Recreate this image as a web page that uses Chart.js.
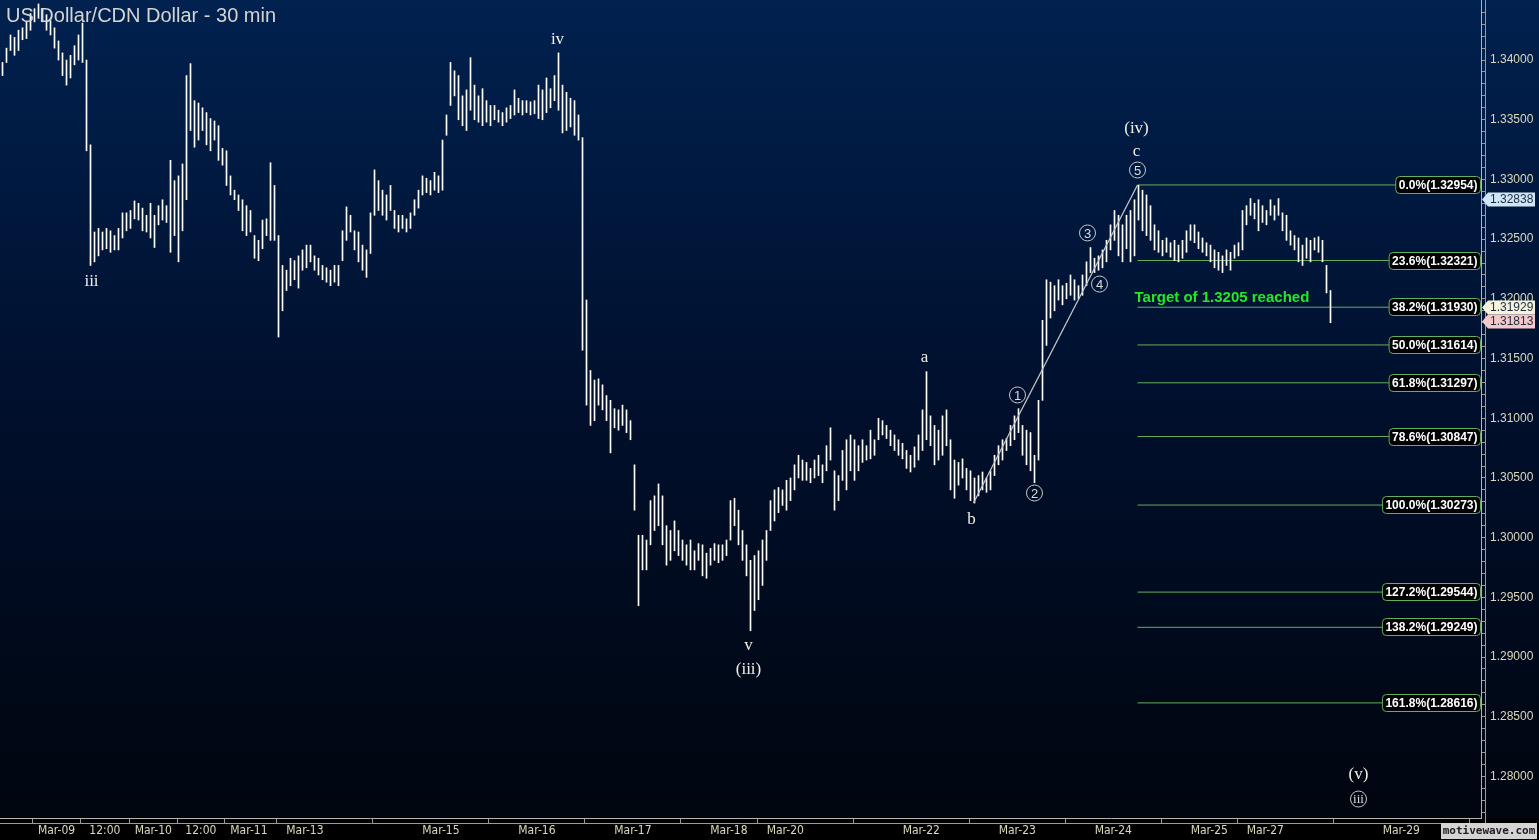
<!DOCTYPE html>
<html>
<head>
<meta charset="utf-8">
<script src="https://cdn.jsdelivr.net/npm/chart.js@4.4.0/dist/chart.umd.min.js"></script>
<style>
html, body { margin: 0; padding: 0; background: #000; }
#wrap { width: 1539px; height: 840px; }
</style>
</head>
<body>
<div id="wrap"><canvas id="chart" width="1539" height="840"></canvas></div>
<script>
// 30 min bars (low / high of each bar)
var barLow = [
  1.3387,1.3398,1.3408,1.3404,1.3408,1.3417,1.3418,1.3425,1.3432,1.3435,
  1.3432,1.3425,1.3421,1.3410,1.3400,1.3387,1.3379,1.3385,1.3396,1.3400,
  1.3398,1.3324,1.3228,1.3231,1.3236,1.3241,1.3242,1.3239,1.3241,1.3241,
  1.3251,1.3257,1.3259,1.3267,1.3266,1.3257,1.3256,1.3251,1.3243,1.3262,
  1.3266,1.3264,1.3239,1.3253,1.3231,1.3257,1.3283,1.3341,1.3327,1.3333,
  1.3341,1.3329,1.3324,1.3333,1.3316,1.3312,1.3295,1.3287,1.3283,1.3274,
  1.3257,1.3253,1.3256,1.3234,1.3232,1.3242,1.3253,1.3249,1.3249,1.3168,
  1.3190,1.3207,1.3211,1.3216,1.3209,1.3224,1.3226,1.3231,1.3224,1.3220,
  1.3216,1.3214,1.3211,1.3214,1.3211,1.3232,1.3249,1.3256,1.3241,1.3231,
  1.3224,1.3218,1.3238,1.3270,1.3274,1.3270,1.3266,1.3274,1.3259,1.3256,
  1.3259,1.3256,1.3259,1.3270,1.3276,1.3287,1.3289,1.3287,1.3291,1.3289,
  1.3291,1.3337,1.3362,1.3370,1.3350,1.3345,1.3341,1.3358,1.3350,1.3348,
  1.3345,1.3348,1.3345,1.3350,1.3348,1.3345,1.3348,1.3351,1.3354,1.3356,
  1.3354,1.3356,1.3354,1.3355,1.3351,1.3350,1.3356,1.3360,1.3366,1.3358,
  1.3339,1.3341,1.3344,1.3337,1.3333,1.3157,1.3111,1.3094,1.3098,1.3111,
  1.3107,1.3098,1.3071,1.3092,1.3090,1.3094,1.3088,1.3082,1.3023,1.2943,
  1.2973,1.2973,1.2994,1.3006,1.3010,1.2994,1.2977,1.2981,1.2989,1.2985,
  1.2981,1.2977,1.2973,1.2973,1.2981,1.2968,1.2966,1.2977,1.2981,1.2979,
  1.2981,1.2985,1.2998,1.3010,1.2994,1.2981,1.2968,1.2922,1.2939,1.2948,
  1.2960,1.2981,1.3006,1.3014,1.3021,1.3027,1.3023,1.3031,1.3040,1.3050,
  1.3048,1.3048,1.3046,1.3050,1.3052,1.3046,1.3056,1.3065,1.3023,1.3031,
  1.3048,1.3040,1.3056,1.3048,1.3056,1.3063,1.3065,1.3066,1.3069,1.3082,
  1.3086,1.3083,1.3077,1.3073,1.3069,1.3066,1.3058,1.3055,1.3059,1.3065,
  1.3073,1.3082,1.3077,1.3061,1.3065,1.3069,1.3077,1.3040,1.3033,1.3044,
  1.3050,1.3040,1.3031,1.3029,1.3035,1.3040,1.3038,1.3040,1.3052,1.3061,
  1.3065,1.3073,1.3077,1.3082,1.3088,1.3069,1.3061,1.3056,1.3046,1.3065,
  1.3115,1.3161,1.3184,1.3190,1.3199,1.3195,1.3200,1.3203,1.3199,1.3200,
  1.3203,1.3211,1.3222,1.3222,1.3224,1.3226,1.3231,1.3241,1.3249,1.3236,
  1.3231,1.3242,1.3231,1.3236,1.3266,1.3257,1.3253,1.3249,1.3241,1.3239,
  1.3236,1.3239,1.3235,1.3232,1.3231,1.3234,1.3239,1.3249,1.3247,1.3242,
  1.3239,1.3236,1.3231,1.3226,1.3224,1.3222,1.3228,1.3224,1.3234,1.3236,
  1.3241,1.3262,1.3270,1.3267,1.3257,1.3264,1.3262,1.3270,1.3266,1.3270,
  1.3257,1.3249,1.3245,1.3241,1.3231,1.3228,1.3234,1.3231,1.3241,1.3239,
  1.3231,1.3205,1.3180
];
var barHigh = [
  1.3398,1.3410,1.3421,1.3419,1.3425,1.3427,1.3432,1.3439,1.3443,1.3447,
  1.3443,1.3438,1.3433,1.3427,1.3416,1.3406,1.3400,1.3404,1.3412,1.3421,
  1.3431,1.3400,1.3329,1.3256,1.3259,1.3256,1.3259,1.3257,1.3253,1.3259,
  1.3272,1.3272,1.3274,1.3282,1.3280,1.3276,1.3270,1.3280,1.3270,1.3278,
  1.3283,1.3278,1.3316,1.3299,1.3303,1.3313,1.3387,1.3397,1.3366,1.3364,
  1.3360,1.3356,1.3351,1.3349,1.3345,1.3326,1.3324,1.3303,1.3291,1.3287,
  1.3283,1.3278,1.3274,1.3253,1.3249,1.3266,1.3267,1.3314,1.3295,1.3253,
  1.3228,1.3224,1.3234,1.3232,1.3236,1.3241,1.3245,1.3245,1.3236,1.3234,
  1.3228,1.3226,1.3224,1.3228,1.3228,1.3257,1.3277,1.3270,1.3257,1.3256,
  1.3245,1.3241,1.3272,1.3308,1.3299,1.3291,1.3287,1.3295,1.3274,1.3270,
  1.3270,1.3267,1.3272,1.3283,1.3291,1.3303,1.3301,1.3299,1.3306,1.3303,
  1.3333,1.3354,1.3398,1.3391,1.3387,1.3370,1.3375,1.3402,1.3379,1.3370,
  1.3376,1.3366,1.3362,1.3362,1.3358,1.3356,1.3360,1.3362,1.3375,1.3368,
  1.3366,1.3366,1.3365,1.3366,1.3379,1.3375,1.3385,1.3376,1.3387,1.3406,
  1.3379,1.3373,1.3368,1.3366,1.3354,1.3335,1.3199,1.3140,1.3132,1.3133,
  1.3128,1.3119,1.3115,1.3108,1.3107,1.3111,1.3107,1.3098,1.3061,1.3002,
  1.3002,1.2998,1.3031,1.3035,1.3045,1.3035,1.3010,1.3006,1.3014,1.3006,
  1.2998,1.2994,1.2998,1.2989,1.2995,1.2994,1.2987,1.2991,1.2995,1.2994,
  1.2994,1.2998,1.3031,1.3033,1.3023,1.3006,1.2994,1.2981,1.2985,1.2989,
  1.2998,1.3006,1.3031,1.3040,1.3042,1.3040,1.3048,1.3050,1.3061,1.3069,
  1.3065,1.3063,1.3058,1.3065,1.3069,1.3061,1.3077,1.3092,1.3056,1.3052,
  1.3073,1.3082,1.3086,1.3082,1.3077,1.3082,1.3077,1.3090,1.3082,1.3100,
  1.3098,1.3094,1.3090,1.3086,1.3082,1.3079,1.3073,1.3069,1.3076,1.3086,
  1.3107,1.3139,1.3102,1.3094,1.3090,1.3102,1.3107,1.3082,1.3065,1.3063,
  1.3066,1.3058,1.3056,1.3050,1.3052,1.3055,1.3050,1.3056,1.3069,1.3077,
  1.3082,1.3083,1.3094,1.3102,1.3108,1.3094,1.3090,1.3088,1.3069,1.3115,
  1.3182,1.3216,1.3214,1.3211,1.3216,1.3211,1.3213,1.3220,1.3216,1.3211,
  1.3220,1.3231,1.3243,1.3234,1.3236,1.3241,1.3249,1.3262,1.3274,1.3270,
  1.3262,1.3270,1.3274,1.3283,1.3295,1.3291,1.3287,1.3278,1.3262,1.3257,
  1.3249,1.3251,1.3247,1.3249,1.3245,1.3249,1.3257,1.3262,1.3262,1.3256,
  1.3251,1.3247,1.3245,1.3241,1.3239,1.3236,1.3241,1.3239,1.3245,1.3247,
  1.3274,1.3278,1.3284,1.3280,1.3283,1.3278,1.3274,1.3283,1.3278,1.3284,
  1.3272,1.3270,1.3257,1.3253,1.3251,1.3245,1.3251,1.3249,1.3251,1.3252,
  1.3249,1.3228,1.3207
];

// time axis labels and the bar they sit on
var tickLabels = ["Mar-09","12:00","Mar-10","12:00","Mar-11","Mar-13","Mar-15","Mar-16","Mar-17","Mar-18",
                  "Mar-20","Mar-22","Mar-23","Mar-24","Mar-25","Mar-27","Mar-29"];
var tickBars = [13.5,25.6,37.7,49.6,61.6,75.6,109.6,133.6,157.6,181.6,
                195.7,229.7,253.7,277.7,301.7,315.7,349.7];

// fibonacci retracement of the b -> (iv) leg
var fibPct = ["0.0%","23.6%","38.2%","50.0%","61.8%","78.6%","100.0%","127.2%","138.2%","161.8%"];
var fibLevels = [1.32954,1.32321,1.31930,1.31614,1.31297,1.30847,1.30273,1.29544,1.29249,1.28616];
var fibStartBar = 283.75;

// trend line from b to wave 5
var trendBars = [242.75, 283.75];
var trendPrices = [1.3029, 1.32954];

// wave counts
var waveText = ["iii","iv","v","(iii)","a","b","(iv)","c","(v)"];
var waveBar = [22.25,138.75,186.5,186.5,230.5,242.25,283.5,283.5,339];
var wavePrice = [1.32141,1.34168,1.29093,1.28892,1.31505,1.30148,1.33423,1.33230,1.28012];
var circleText = ["1","2","3","4","5","iii"];
var circleBar = [253.75,258,271.25,274.25,283.75,339];
var circlePrice = [1.31195,1.30374,1.32552,1.32124,1.33079,1.27811];

// price tags on the axis
var tagValues = [1.32838, 1.31929, 1.31813];
var tagColors = ["#cfe6f6", "#f6f3dc", "#f5c9c9"];

var targetNote = "Target of 1.3205 reached";
var targetBar = 283;
var targetPrice = 1.3201;

var xMin = -0.625, xMax = 369.625;

var bars = [];
for (var i = 0; i < barLow.length; i++) {
    bars.push({x: i, y: [barLow[i], barHigh[i]]});
}

var datasets = [];
datasets.push({
    type: "line",
    data: [{x: trendBars[0], y: trendPrices[0]}, {x: trendBars[1], y: trendPrices[1]}],
    borderColor: "#c4c4c4",
    borderWidth: 1.3,
    pointRadius: 0,
    order: 0
});
for (var f = 0; f < fibLevels.length; f++) {
    datasets.push({
        type: "line",
        data: [{x: fibStartBar, y: fibLevels[f]}, {x: xMax, y: fibLevels[f]}],
        borderColor: "#62b05a",
        borderWidth: 1,
        pointRadius: 0,
        order: 2
    });
}
datasets.push({
    type: "bar",
    data: bars,
    backgroundColor: "#ffffff",
    borderWidth: 0,
    barThickness: 1,
    grouped: false,
    order: 1
});

function roundRect(ctx, x, y, w, h, r) {
    ctx.beginPath();
    ctx.moveTo(x + r, y);
    ctx.lineTo(x + w - r, y);
    ctx.quadraticCurveTo(x + w, y, x + w, y + r);
    ctx.lineTo(x + w, y + h - r);
    ctx.quadraticCurveTo(x + w, y + h, x + w - r, y + h);
    ctx.lineTo(x + r, y + h);
    ctx.quadraticCurveTo(x, y + h, x, y + h - r);
    ctx.lineTo(x, y + r);
    ctx.quadraticCurveTo(x, y, x + r, y);
    ctx.closePath();
}

var background = {
    id: "background",
    beforeDraw: function(chart) {
        var ctx = chart.ctx, a = chart.chartArea;
        var g = ctx.createLinearGradient(0, 0, 0, a.bottom);
        g.addColorStop(0, "#01214f");
        g.addColorStop(0.5, "#000f2c");
        g.addColorStop(1, "#00060f");
        ctx.save();
        ctx.fillStyle = g;
        ctx.fillRect(0, 0, chart.width, a.bottom);
        ctx.fillStyle = "#000000";
        ctx.fillRect(0, a.bottom, chart.width, chart.height - a.bottom);
        ctx.restore();
    }
};

var overlay = {
    id: "overlay",
    afterDraw: function(chart) {
        var ctx = chart.ctx, xs = chart.scales.x, ys = chart.scales.y, a = chart.chartArea;
        ctx.save();

        // second rule of the axes
        ctx.strokeStyle = "#9c9c94";
        ctx.lineWidth = 1;
        ctx.beginPath();
        ctx.moveTo(0, a.bottom + 5.5);
        ctx.lineTo(a.right + 4.5, a.bottom + 5.5);
        ctx.moveTo(a.right + 4.5, 0);
        ctx.lineTo(a.right + 4.5, a.bottom + 5.5);
        ctx.stroke();

        // title
        ctx.font = "20px 'Liberation Sans', Arial, sans-serif";
        ctx.fillStyle = "#d4d4d0";
        ctx.textAlign = "left";
        ctx.textBaseline = "middle";
        ctx.fillText("US Dollar/CDN Dollar - 30 min", 6, 16);

        // wave labels
        ctx.font = "17px 'Liberation Serif', 'DejaVu Serif', serif";
        ctx.fillStyle = "#f2f0e4";
        ctx.textAlign = "center";
        for (var i = 0; i < waveText.length; i++) {
            ctx.fillText(waveText[i], xs.getPixelForValue(waveBar[i]), ys.getPixelForValue(wavePrice[i]));
        }
        for (var j = 0; j < circleText.length; j++) {
            var cx = xs.getPixelForValue(circleBar[j]), cy = ys.getPixelForValue(circlePrice[j]);
            ctx.strokeStyle = "#c8c8c8";
            ctx.lineWidth = 1;
            ctx.beginPath();
            ctx.arc(cx, cy, 8, 0, Math.PI * 2);
            ctx.stroke();
            ctx.fillStyle = "#dcdcdc";
            ctx.font = circleText[j] === "iii" ? "13px 'Liberation Serif', serif" : "13px 'Liberation Sans', Arial, sans-serif";
            ctx.fillText(circleText[j], cx, cy + 1);
        }

        // target note
        ctx.font = "bold 15px 'Liberation Sans', Arial, sans-serif";
        ctx.fillStyle = "#24e824";
        ctx.textAlign = "left";
        ctx.fillText(targetNote, xs.getPixelForValue(targetBar), ys.getPixelForValue(targetPrice));

        // fibonacci labels
        ctx.font = "bold 12px 'Liberation Sans', Arial, sans-serif";
        for (var f = 0; f < fibLevels.length; f++) {
            var txt = fibPct[f] + "(" + fibLevels[f].toFixed(5) + ")";
            var w = ctx.measureText(txt).width + 6;
            var py = Math.round(ys.getPixelForValue(fibLevels[f]));
            roundRect(ctx, a.right - w - 0.5, py - 8.5, w, 17, 4);
            ctx.fillStyle = "#000000";
            ctx.fill();
            ctx.strokeStyle = "#62b05a";
            ctx.lineWidth = 1;
            ctx.stroke();
            ctx.fillStyle = "#ffffff";
            ctx.textAlign = "left";
            ctx.fillText(txt, a.right - w + 2.5, py + 0.5);
        }

        // price tags
        ctx.font = "12px 'Liberation Sans', Arial, sans-serif";
        for (var t = 0; t < tagValues.length; t++) {
            var ty = Math.round(ys.getPixelForValue(tagValues[t]));
            var left = a.right + 1, right = chart.width - 4;
            ctx.beginPath();
            ctx.moveTo(left, ty + 0.5);
            ctx.lineTo(left + 6, ty - 6.5);
            ctx.lineTo(right, ty - 6.5);
            ctx.lineTo(right, ty + 7.5);
            ctx.lineTo(left + 6, ty + 7.5);
            ctx.closePath();
            ctx.fillStyle = tagColors[t];
            ctx.fill();
            ctx.fillStyle = "#1c2c44";
            ctx.textAlign = "left";
            ctx.fillText(tagValues[t].toFixed(5), a.right + 9, ty + 1);
        }

        // watermark
        ctx.fillStyle = "#d4d4d4";
        ctx.fillRect(1441, 823, 96, 16);
        ctx.fillStyle = "#1e1e1e";
        ctx.font = "bold 11px 'DejaVu Sans Mono', monospace";
        ctx.textAlign = "center";
        ctx.fillText("motivewave.com", 1489, 831.5);

        ctx.restore();
    }
};

var tickFont = {family: "'Liberation Sans Narrow', 'DejaVu Sans Condensed', 'Liberation Sans', sans-serif", size: 12};

new Chart(document.getElementById("chart"), {
    type: "bar",
    data: {datasets: datasets},
    options: {
        responsive: false,
        animation: false,
        layout: {padding: 0},
        plugins: {legend: {display: false}, tooltip: {enabled: false}, title: {display: false}},
        scales: {
            x: {
                type: "linear",
                min: xMin,
                max: xMax,
                offset: false,
                afterFit: function(s) {
                    s.height = 22;
                    s.paddingLeft = 0;
                    s.paddingRight = 0;
                },
                afterBuildTicks: function(s) {
                    s.ticks = tickBars.map(function(v) { return {value: v}; });
                },
                ticks: {
                    autoSkip: false,
                    maxRotation: 0,
                    padding: 1,
                    color: "#dcd8bc",
                    font: tickFont,
                    callback: function(v, idx) { return tickLabels[idx]; }
                },
                grid: {drawOnChartArea: false, drawTicks: true, tickLength: 5, color: "#9c9c94"},
                border: {display: true, color: "#b4b4ac"}
            },
            y: {
                type: "linear",
                position: "right",
                min: 1.27652,
                max: 1.34503,
                afterFit: function(s) {
                    s.width = 58;
                    s.paddingTop = 0;
                    s.paddingBottom = 0;
                },
                afterBuildTicks: function(s) {
                    var t = [];
                    for (var k = 1277; k <= 1344; k++) t.push({value: k / 1000});
                    s.ticks = t;
                },
                ticks: {
                    autoSkip: false,
                    padding: 4,
                    color: "#dcd8bc",
                    font: {family: "'Liberation Sans', Arial, sans-serif", size: 12},
                    callback: function(v) { return Math.round(v * 1000) % 5 === 0 ? v.toFixed(5) : ""; }
                },
                grid: {drawOnChartArea: false, drawTicks: true, tickLength: 5, color: "#9c9c94"},
                border: {display: true, color: "#b4b4ac"}
            }
        }
    },
    plugins: [background, overlay]
});
</script>
</body>
</html>
